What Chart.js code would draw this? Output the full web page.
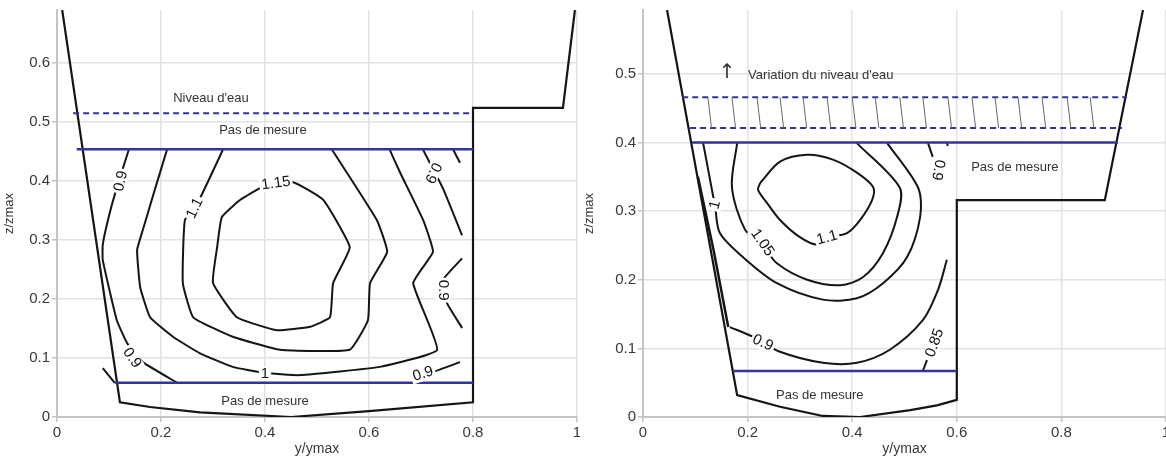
<!DOCTYPE html>
<html>
<head>
<meta charset="utf-8">
<script src="https://cdn.jsdelivr.net/npm/chart.js@4/dist/chart.umd.min.js"></script>
<style>
html, body { margin: 0; padding: 0; background: #fff; }
#wrap { position: relative; width: 1166px; height: 459px; overflow: hidden; }
#left { position: absolute; left: 0; top: 0; }
#right { position: absolute; left: 580px; top: 0; }
</style>
</head>
<body>
<div id="wrap">
  <canvas id="left" width="580" height="459"></canvas>
  <canvas id="right" width="586" height="459"></canvas>
</div>
<script>
// TICKS
var xTicks = [0, 0.2, 0.4, 0.6, 0.8, 1];
var yTicksLeft = [0, 0.1, 0.2, 0.3, 0.4, 0.5, 0.6];
var yTicksRight = [0, 0.1, 0.2, 0.3, 0.4, 0.5];
var yMaxLeft = 0.69;
var yMaxRight = 0.593;

// LEFT PANEL (channel outline, levels, contours of u/umean)
var leftChannel = [[0.01, 0.69], [0.121, 0.025], [0.179, 0.017], [0.275, 0.008], [0.45, 0.0],
  [0.6, 0.01], [0.8, 0.025], [0.8, 0.524], [0.973, 0.524], [0.996, 0.69]];
var leftWaterLevel = [[0.031, 0.515], [0.8, 0.515]];
var leftMeasureTop = [[0.038, 0.454], [0.8, 0.454]];
var leftMeasureBottom = [[0.111, 0.058], [0.8, 0.058]];

var leftC090a = [[0.138, 0.453], [0.112, 0.380], [0.098, 0.334], [0.088, 0.292], [0.088, 0.266],
  [0.115, 0.164], [0.135, 0.125], [0.165, 0.093], [0.231, 0.058]];
var leftC090b = [[0.088, 0.083], [0.111, 0.058]];
var leftC100 = [[0.2115, 0.453], [0.188, 0.385], [0.165, 0.317], [0.154, 0.283], [0.160, 0.220],
  [0.179, 0.169], [0.223, 0.136], [0.275, 0.108], [0.338, 0.085], [0.396, 0.075], [0.467, 0.071],
  [0.621, 0.085], [0.731, 0.114], [0.685, 0.227], [0.723, 0.280], [0.704, 0.334], [0.660, 0.414],
  [0.640, 0.453]];
var leftC110 = [[0.319, 0.453], [0.275, 0.371], [0.246, 0.334], [0.242, 0.227], [0.262, 0.169],
  [0.338, 0.136], [0.429, 0.114], [0.563, 0.114], [0.598, 0.164], [0.602, 0.227], [0.635, 0.280],
  [0.615, 0.334], [0.529, 0.453]];
var leftC115 = [[0.390, 0.388], [0.454, 0.398], [0.512, 0.368], [0.563, 0.288], [0.531, 0.227],
  [0.525, 0.169], [0.487, 0.153], [0.423, 0.147], [0.346, 0.169], [0.300, 0.227], [0.308, 0.288],
  [0.317, 0.339], [0.352, 0.368], [0.390, 0.388]];
var leftC090c = [[0.704, 0.453], [0.742, 0.388], [0.779, 0.308]];
var leftC090d = [[0.762, 0.453], [0.775, 0.431]];
var leftC090e = [[0.779, 0.269], [0.742, 0.232], [0.750, 0.193], [0.779, 0.151]];
var leftC090f = [[0.775, 0.093], [0.723, 0.076], [0.685, 0.058]];

// RIGHT PANEL
var rightChannel = [[0.046, 0.593], [0.180, 0.032], [0.262, 0.015], [0.344, 0.0015], [0.415, 0.0],
  [0.511, 0.010], [0.562, 0.017], [0.600, 0.025], [0.600, 0.316], [0.883, 0.316], [0.956, 0.593]];
var rightWallInner = [[0.105, 0.350], [0.135, 0.243], [0.163, 0.131]];
var rightLevelHigh = [[0.075, 0.466], [0.925, 0.466]];
var rightLevelLow = [[0.090, 0.421], [0.916, 0.421]];
var rightMeasureTop = [[0.094, 0.400], [0.908, 0.400]];
var rightMeasureBottom = [[0.172, 0.067], [0.600, 0.067]];
var rightHatchX = [0.124, 0.170, 0.218, 0.262, 0.306, 0.352, 0.400, 0.444, 0.491, 0.535,
  0.583, 0.629, 0.673, 0.717, 0.763, 0.811, 0.855];

var rightC100 = [[0.115, 0.399], [0.138, 0.306], [0.147, 0.268], [0.191, 0.233], [0.256, 0.195],
  [0.344, 0.171], [0.409, 0.173], [0.459, 0.195], [0.505, 0.233], [0.530, 0.292], [0.526, 0.334],
  [0.467, 0.399]];
var rightC105 = [[0.180, 0.399], [0.170, 0.335], [0.195, 0.273], [0.228, 0.251], [0.256, 0.224],
  [0.314, 0.200], [0.377, 0.192], [0.421, 0.204], [0.459, 0.239], [0.486, 0.292], [0.491, 0.334],
  [0.409, 0.399]];
var rightC110 = [[0.224, 0.341], [0.262, 0.372], [0.314, 0.382], [0.363, 0.375], [0.409, 0.356],
  [0.440, 0.335], [0.438, 0.316], [0.415, 0.287], [0.390, 0.268], [0.352, 0.261], [0.333, 0.251],
  [0.300, 0.262], [0.262, 0.287], [0.237, 0.312], [0.220, 0.331], [0.224, 0.341]];
var rightC090a = [[0.166, 0.131], [0.210, 0.117], [0.262, 0.095], [0.344, 0.079], [0.409, 0.079],
  [0.472, 0.098], [0.535, 0.141], [0.564, 0.185], [0.581, 0.229]];
var rightC085 = [[0.535, 0.067], [0.543, 0.083]];
var rightC090b = [[0.545, 0.399], [0.554, 0.379]];
var rightC090c = [[0.581, 0.399], [0.583, 0.395]];

// HELPERS
var FONT = "'Liberation Sans', Arial, sans-serif";
var BLUE = '#33339c';

function line(points, extra) {
  return Object.assign({
    data: points.map(function (p) { return { x: p[0], y: p[1] }; }),
    showLine: true,
    pointRadius: 0,
    borderColor: '#151515',
    borderWidth: 2,
    tension: 0,
    fill: false
  }, extra || {});
}

function hatch(xs, yTop, yBottom) {
  var pts = [];
  xs.forEach(function (x) {
    pts.push({ x: x, y: yTop });
    pts.push({ x: x + 0.007, y: yBottom });
    pts.push({ x: x, y: null });
  });
  return {
    data: pts, showLine: true, pointRadius: 0, borderColor: '#666',
    borderWidth: 1, spanGaps: false, fill: false
  };
}

function textPlugin(items) {
  return {
    id: 'panelText',
    afterDatasetsDraw: function (chart) {
      var ctx = chart.ctx, xs = chart.scales.x, ys = chart.scales.y;
      items.forEach(function (it) {
        var px = xs.getPixelForValue(it.x), py = ys.getPixelForValue(it.y);
        ctx.save();
        ctx.translate(px, py);
        ctx.rotate((it.rot || 0) * Math.PI / 180);
        ctx.font = it.font || ('15px ' + FONT);
        ctx.textAlign = it.align || 'center';
        ctx.textBaseline = 'middle';
        if (it.gap) {
          var w = ctx.measureText(it.text).width;
          ctx.fillStyle = '#fff';
          ctx.fillRect(-w / 2 - 2, -7, w + 4, 14);
        }
        ctx.fillStyle = it.color || '#111';
        ctx.fillText(it.text, 0, 0);
        ctx.restore();
      });
    }
  };
}

function panel(id, datasets, yMax, yTicks, yAxisW, padRight, items) {
  return new Chart(document.getElementById(id), {
    type: 'scatter',
    data: { datasets: datasets },
    options: {
      responsive: false,
      animation: false,
      devicePixelRatio: 1,
      layout: { padding: { top: 10, right: padRight, left: 0, bottom: 0 } },
      plugins: { legend: { display: false }, tooltip: { enabled: false } },
      scales: {
        x: {
          type: 'linear', min: 0, max: 1,
          afterBuildTicks: function (s) { s.ticks = xTicks.map(function (v) { return { value: v }; }); },
          afterFit: function (s) { s.height = 42; s.paddingLeft = 0; s.paddingRight = 0; },
          grid: { color: '#e2e2e2', lineWidth: 1.5, tickLength: 5, tickColor: '#c4c4c4' },
          border: { color: '#c4c4c4', width: 2 },
          ticks: {
            color: '#383838', padding: 2, maxRotation: 0, autoSkip: false,
            font: { family: FONT, size: 15 },
            callback: function (v) { return String(Math.round(v * 10) / 10); }
          },
          title: {
            display: true, text: 'y/ymax', color: '#383838',
            font: { family: FONT, size: 14 }, padding: { top: 0, bottom: 1 }
          }
        },
        y: {
          type: 'linear', min: 0, max: yMax,
          afterBuildTicks: function (s) { s.ticks = yTicks.map(function (v) { return { value: v }; }); },
          afterFit: function (s) { s.width = yAxisW; s.paddingTop = 0; s.paddingBottom = 0; },
          grid: { color: '#e2e2e2', lineWidth: 1.5, tickLength: 5, tickColor: '#c4c4c4' },
          border: { color: '#c4c4c4', width: 2 },
          ticks: {
            color: '#383838', padding: 2, autoSkip: false,
            font: { family: FONT, size: 15 },
            callback: function (v) { return String(Math.round(v * 10) / 10); }
          },
          title: {
            display: true, text: 'z/zmax', color: '#383838',
            font: { family: FONT, size: 13 }, padding: { top: 2, bottom: 0 }
          }
        }
      }
    },
    plugins: [textPlugin(items)]
  });
}

// DEFINING CHARTS

var dashed = { borderColor: BLUE, borderWidth: 2, borderDash: [6, 4] };
var blue = { borderColor: BLUE, borderWidth: 2.5 };
var curve = { tension: 0.12 };
var smooth = { tension: 0.3 };

panel('left', [
  line(leftWaterLevel, dashed),
  line(leftMeasureTop, blue),
  line(leftMeasureBottom, blue),
  line(leftChannel, { borderWidth: 2.2 }),
  line(leftC090a, curve),
  line(leftC090b),
  line(leftC100, curve),
  line(leftC110, curve),
  line(leftC115, curve),
  line(leftC090c, curve),
  line(leftC090d),
  line(leftC090e, curve),
  line(leftC090f, curve)
], yMaxLeft, yTicksLeft, 57, 3, [
  { x: 0.296, y: 0.540, text: "Niveau d'eau", font: '13px ' + FONT, color: '#333' },
  { x: 0.396, y: 0.485, text: 'Pas de mesure', font: '13px ' + FONT, color: '#333' },
  { x: 0.400, y: 0.027, text: 'Pas de mesure', font: '13px ' + FONT, color: '#333' },
  { x: 0.123, y: 0.400, text: '0.9', rot: -78, gap: true },
  { x: 0.265, y: 0.354, text: '1.1', rot: -65, gap: true },
  { x: 0.421, y: 0.396, text: '1.15', rot: -8, gap: true },
  { x: 0.144, y: 0.100, text: '0.9', rot: 55, gap: true },
  { x: 0.400, y: 0.073, text: '1', rot: 0, gap: true },
  { x: 0.723, y: 0.414, text: '0.9', rot: 115, gap: true },
  { x: 0.742, y: 0.215, text: '0.9', rot: 90, gap: true },
  { x: 0.704, y: 0.073, text: '0.9', rot: -18, gap: true }
]);

panel('right', [
  hatch(rightHatchX, 0.466, 0.421),
  line(rightLevelHigh, dashed),
  line(rightLevelLow, dashed),
  line(rightMeasureTop, blue),
  line(rightMeasureBottom, blue),
  line(rightChannel, { borderWidth: 2.2 }),
  line(rightWallInner, { borderWidth: 2.5 }),
  line(rightC100, smooth),
  line(rightC105, smooth),
  line(rightC110, smooth),
  line(rightC090a, smooth),
  line(rightC085),
  line(rightC090b),
  line(rightC090c)
], yMaxRight, yTicksRight, 63, 0, [
  { x: 0.161, y: 0.502, text: '\u2191', font: "20px 'DejaVu Sans'", color: '#333' },
  { x: 0.201, y: 0.497, text: "Variation du niveau d'eau", font: '13px ' + FONT, color: '#333', align: 'left' },
  { x: 0.711, y: 0.363, text: 'Pas de mesure', font: '13px ' + FONT, color: '#333' },
  { x: 0.338, y: 0.031, text: 'Pas de mesure', font: '13px ' + FONT, color: '#333' },
  { x: 0.138, y: 0.309, text: '1', rot: -75, gap: true },
  { x: 0.228, y: 0.254, text: '1.05', rot: 55, gap: true },
  { x: 0.352, y: 0.261, text: '1.1', rot: -15, gap: true },
  { x: 0.229, y: 0.108, text: '0.9', rot: 25, gap: true },
  { x: 0.558, y: 0.108, text: '0.85', rot: -70, gap: true },
  { x: 0.564, y: 0.360, text: '0.9', rot: 100, gap: true }
]);
</script>
</body>
</html>
